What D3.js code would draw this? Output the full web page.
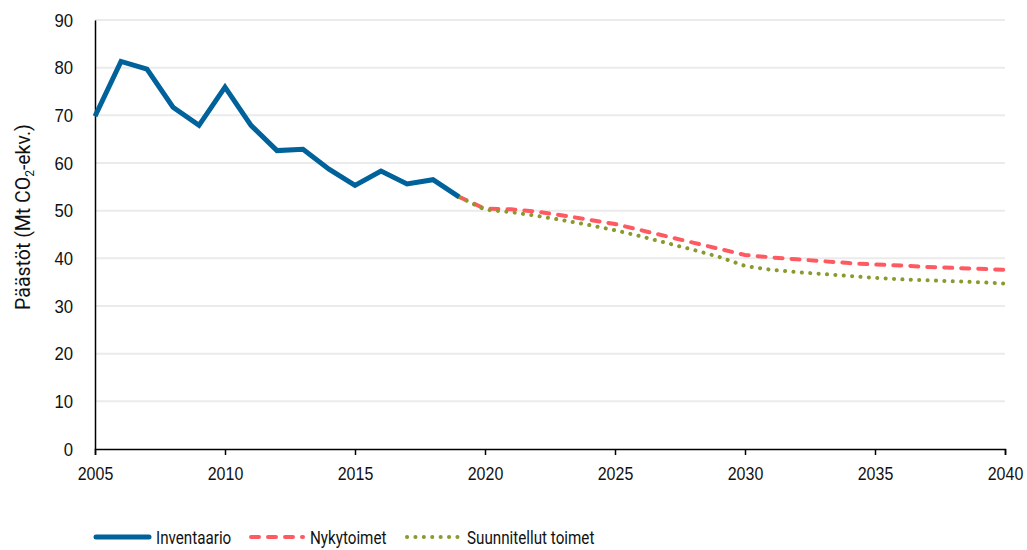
<!DOCTYPE html>
<html>
<head>
<meta charset="utf-8">
<script src="https://cdn.jsdelivr.net/npm/d3@7"></script>
<style>
  body { margin: 0; background: #fff; }
  svg { font-family: Roboto, "Liberation Sans", sans-serif; }
</style>
</head>
<body>
<svg id="chart" width="1027" height="550"></svg>
<script>
// --- data
const inventoryYears = d3.range(2005, 2020);
const inventoryValues = [69.8, 81.3, 79.7, 71.7, 67.9, 75.9, 67.9, 62.6, 62.9, 58.7, 55.3, 58.3, 55.6, 56.5, 52.9];

const projYears = d3.range(2019, 2041);
const currentValues = [52.9, 50.4, 50.3, 49.8, 49.0, 48.1, 47.2, 45.9, 44.6, 43.3, 42.0, 40.7,
  40.2, 39.8, 39.4, 39.0, 38.7, 38.5, 38.2, 38.0, 37.8, 37.6];
const plannedValues = [52.9, 50.2, 49.7, 48.9, 48.0, 47.0, 45.9, 44.6, 43.2, 41.8, 40.3, 38.4,
  37.6, 37.1, 36.7, 36.3, 35.9, 35.6, 35.4, 35.2, 35.0, 34.7];

const yTicks = [0, 10, 20, 30, 40, 50, 60, 70, 80, 90];
const xTicks = [2005, 2010, 2015, 2020, 2025, 2030, 2035, 2040];

const seriesNames = ['Inventaario', 'Nykytoimet', 'Suunnitellut toimet'];

// --- layout
const svg = d3.select('#chart');
const margin = { left: 95, right: 22, top: 20, bottom: 101 };
const W = 1027, H = 550;

const x = d3.scaleLinear().domain([2005, 2040]).range([margin.left, W - margin.right]);
const y = d3.scaleLinear().domain([0, 90]).range([H - margin.bottom, margin.top]);

const COLORS = { blue: '#00629b', red: '#ff5a61', green: '#8a9a2c' };

// squeeze text horizontally, the original uses a condensed face
function condense(sel, f) {
  sel.each(function () {
    const len = this.getComputedTextLength();
    d3.select(this).attr('textLength', len * f).attr('lengthAdjust', 'spacingAndGlyphs');
  });
}

// grid
svg.append('g').selectAll('line')
  .data(yTicks.filter(d => d > 0))
  .enter().append('line')
  .attr('x1', x(2005)).attr('x2', x(2040))
  .attr('y1', d => y(d)).attr('y2', d => y(d))
  .attr('stroke', '#ebebeb').attr('stroke-width', 2);

// y axis
const yAxis = svg.append('g')
  .attr('transform', `translate(${x(2005)},0)`)
  .call(d3.axisLeft(y).tickValues(yTicks).tickSize(0).tickPadding(22));
yAxis.select('.domain').attr('stroke', '#000').attr('stroke-width', 1.5);
yAxis.selectAll('text').attr('font-size', 19).attr('fill', '#111').attr('font-family', null).call(condense, 0.88);

// x axis
const xAxis = svg.append('g')
  .attr('transform', `translate(0,${y(0)})`)
  .call(d3.axisBottom(x).tickValues(xTicks).tickFormat(d3.format('d')).tickSizeOuter(0).tickSize(6).tickPadding(12));
xAxis.select('.domain').attr('stroke', '#000').attr('stroke-width', 1.5);
xAxis.selectAll('.tick line').attr('stroke', '#000').attr('stroke-width', 1.5);
xAxis.selectAll('text').attr('font-size', 19).attr('fill', '#111').attr('font-family', null).call(condense, 0.84);

// y label
const yLabel = svg.append('text')
  .attr('transform', 'translate(30,217) rotate(-90)')
  .attr('text-anchor', 'middle')
  .attr('font-size', 19.5)
  .attr('fill', '#111');
yLabel.append('tspan').text('Päästöt  (Mt CO');
yLabel.append('tspan').attr('font-size', 12).attr('dy', 4).text('2');
yLabel.append('tspan').attr('dy', -4).text('-ekv.)');

// lines
const line = d3.line().x(d => x(d[0])).y(d => y(d[1]));

svg.append('path')
  .datum(projYears.map((yr, i) => [yr, currentValues[i]]))
  .attr('d', line)
  .attr('fill', 'none')
  .attr('stroke', COLORS.red)
  .attr('stroke-width', 4)
  .attr('stroke-linecap', 'round')
  .attr('stroke-dasharray', '8,9');

svg.append('path')
  .datum(projYears.map((yr, i) => [yr, plannedValues[i]]))
  .attr('d', line)
  .attr('fill', 'none')
  .attr('stroke', COLORS.green)
  .attr('stroke-width', 4)
  .attr('stroke-linecap', 'round')
  .attr('stroke-dasharray', '0.1,8.3');

svg.append('path')
  .datum(inventoryYears.map((yr, i) => [yr, inventoryValues[i]]))
  .attr('d', line)
  .attr('fill', 'none')
  .attr('stroke', COLORS.blue)
  .attr('stroke-width', 5)
  .attr('stroke-linejoin', 'miter');

// legend
const legendY = 537;
const legendItems = [
  { name: seriesNames[0], x1: 96, x2: 149, color: COLORS.blue, width: 5, dash: null },
  { name: seriesNames[1], x1: 251, x2: 303, color: COLORS.red, width: 4, dash: '8,9' },
  { name: seriesNames[2], x1: 407, x2: 460, color: COLORS.green, width: 4, dash: '0.1,8.3' }
];
const legend = svg.append('g');
legendItems.forEach(item => {
  legend.append('line')
    .attr('x1', item.x1).attr('x2', item.x2)
    .attr('y1', legendY).attr('y2', legendY)
    .attr('stroke', item.color)
    .attr('stroke-width', item.width)
    .attr('stroke-linecap', 'round')
    .attr('stroke-dasharray', item.dash);
  legend.append('text')
    .attr('x', item.x2 + 7)
    .attr('y', legendY + 7)
    .attr('font-size', 19)
    .attr('fill', '#111')
    .text(item.name)
    .call(condense, 0.8);
});
</script>
</body>
</html>
